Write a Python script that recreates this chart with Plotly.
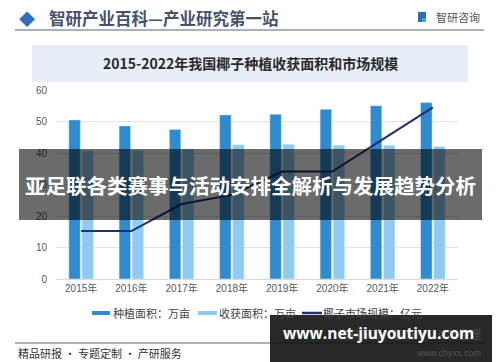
import plotly.graph_objects as go

years = ["2015年", "2016年", "2017年", "2018年", "2019年", "2020年", "2021年", "2022年"]
planting_area = [50.5, 48.6, 47.5, 52.1, 52.3, 53.9, 55.0, 56.0]
harvest_area = [40.7, 40.8, 41.3, 42.6, 42.8, 42.5, 42.5, 42.1]
market_size = [15.2, 15.2, 23.8, 26.7, 34.1, 34.1, 44.3, 54.5]

series_names = ["种植面积：万亩", "收获面积：万亩", "椰子市场规模：亿元"]
y_ticks = [0, 10, 20, 30, 40, 50, 60]

C_PLANT = "#2e8bd0"
C_HARV = "#8fcbf0"
C_LINE = "#1d2f6e"

# the page body adds an 8px margin; figure is sized to fill the rest of the window
OFF = 8
FW, FH = 500 - OFF, 362 - OFF
# pixel layout of the plot area (window coordinates)
L, R, T, B = 56, 458, 90, 279
W, H = R - L, B - T


def px(x):
    return (x - L) / W


def py(y):
    return (B - y) / H


CJK = "Noto Sans CJK SC"
LAT = "Liberation Sans, Noto Sans CJK SC"

fig = go.Figure()
fig.add_trace(go.Bar(x=years, y=planting_area, name=series_names[0], marker_color=C_PLANT))
fig.add_trace(go.Bar(x=years, y=harvest_area, name=series_names[1], marker_color=C_HARV))
fig.add_trace(go.Scatter(x=years, y=market_size, name=series_names[2], mode="lines",
                         line=dict(color=C_LINE, width=2)))

shapes = []
ann = []


def note(x, y, text, size, color, family=CJK, xanchor="center"):
    ann.append(dict(x=px(x), y=py(y), xref="paper", yref="paper", text=text,
                    font=dict(size=size, color=color, family=family), showarrow=False,
                    xanchor=xanchor, yanchor="middle"))


def rect(x0, x1, y0, y1, fill, layer="above"):
    shapes.append(dict(type="rect", xref="paper", yref="paper", x0=px(x0), x1=px(x1),
                       y0=py(y1), y1=py(y0), fillcolor=fill, line=dict(width=0), layer=layer))


def hline(x0, x1, y, color, width):
    shapes.append(dict(type="line", xref="paper", yref="paper", x0=px(x0), x1=px(x1),
                       y0=py(y), y1=py(y), line=dict(color=color, width=width)))


# header
note(27, 18, "◆", 16, "#2f6cc4")
note(47, 18, "<b>智研产业百科—产业研究第一站</b>", 16.5, "#46516b", xanchor="left")
rect(418, 426, 12, 22, "#2f6cc4")
rect(422, 426, 18, 22, "#3cb878")
note(482, 17, "智研咨询", 11, "#555555", xanchor="right")
hline(15, 484, 30, "#8a97ab", 1.5)

# title box
rect(32, 468, 45, 82, "#e7eef8", layer="below")
note(250, 63, "<b>2015-2022年我国椰子种植收获面积和市场规模</b>", 14, "#2a2a2a")

# custom legend
rect(92, 110, 311, 315, C_PLANT)
note(111, 313, series_names[0], 11, "#444444", xanchor="left")
rect(198, 217, 311, 315, C_HARV)
note(217, 313, series_names[1], 11, "#444444", xanchor="left")
hline(302, 322, 313, C_LINE, 2.5)
note(321, 313, series_names[2], 11, "#444444", xanchor="left")

# footer
hline(15, 484, 343, "#8a97ab", 1.5)
note(16, 353, "精品研报 · 专题定制 · 产研服务", 11, "#333333", xanchor="left")

# overlay banner across the chart
rect(19, 482, 149, 220, "rgba(0,0,0,0.58)")
note(250, 185, "<b>亚足联各类赛事与活动安排全解析与发展趋势分析</b>", 20.5, "#ffffff")

# bottom-right black box
rect(270, 492, 315, 362, "rgba(22,22,22,0.92)")
note(483, 334, "资料来源：智研产业百科整理", 11, "#4a4a4a", xanchor="right")
note(483, 353, "www.chyxx.com", 9, "#555555", family=LAT, xanchor="right")
note(378, 333, "<b>www.net-jiuyoutiyu.com</b>", 15.5, "#ffffff", family="Open Sans")

fig.update_layout(
    width=FW, height=FH,
    margin=dict(l=L - OFF, r=FW - (R - OFF), t=T - OFF, b=FH - (B - OFF), pad=0),
    paper_bgcolor="white", plot_bgcolor="white",
    barmode="group", bargap=0.48, bargroupgap=0.12,
    showlegend=False,
    shapes=shapes, annotations=ann,
    xaxis=dict(type="category", showgrid=False, showline=True, linecolor="#d9d9d9", linewidth=1,
               tickfont=dict(size=10, color="#595959", family=LAT), ticks="", fixedrange=True),
    yaxis=dict(range=[0, 60], tickvals=y_ticks, showgrid=True, gridcolor="#e3e3e3", gridwidth=1,
               zeroline=False, showline=False, ticks="", ticklabelstandoff=8,
               tickfont=dict(size=10, color="#595959", family=LAT), fixedrange=True),
)

fig.write_html("out.html")
